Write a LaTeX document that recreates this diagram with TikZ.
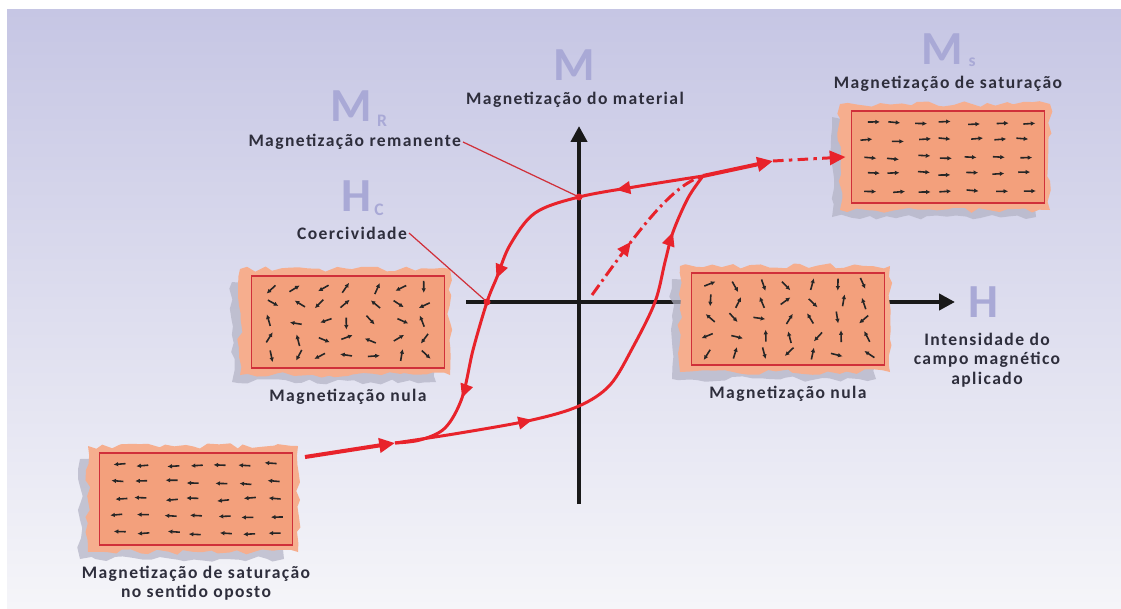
\documentclass[tikz,border=0pt]{standalone}
\usepackage{fontspec}
\setmainfont{Carlito}
\usetikzlibrary{positioning,arrows.meta,calc,decorations.markings,decorations.pathmorphing}
\definecolor{fundo}{HTML}{C6C6E4}
\definecolor{fundomeio}{HTML}{DCDCEE}
\definecolor{fundoclaro}{HTML}{F5F5F9}
\definecolor{lilas}{HTML}{A9A9D6}
\definecolor{texto}{HTML}{2E2E3C}
\definecolor{curva}{HTML}{E8232B}
\definecolor{placa}{HTML}{F3A07C}
\definecolor{rasgado}{HTML}{F6AE8E}
\definecolor{borda}{HTML}{D0303A}
\definecolor{sombra}{HTML}{B2B2C4}
\tikzset{
  rotulo/.style={font=\bfseries\fontsize{10}{11}\selectfont\addfontfeatures{LetterSpace=8}, text=texto, align=center, inner sep=1pt},
  letra/.style={font=\bfseries\fontsize{27}{27}\selectfont, text=lilas, inner sep=0pt},
  indice/.style={font=\bfseries\fontsize{10}{10}\selectfont, text=lilas, inner sep=0pt},
  eixo/.style={line width=2.8pt, draw=black!90, -{Triangle[length=9pt,width=9pt]}},
  ramo/.style={draw=curva, line width=1.7pt},
  seta/.style={postaction={decorate, decoration={markings, mark=at position #1 with {\arrow{Triangle[length=8pt,width=7pt]}}}}},
  guia/.style={draw=borda, line width=0.7pt},
  dominio/.style={draw=borda, line width=0.8pt, fill=placa, minimum width=3.86cm, minimum height=1.84cm, inner sep=0pt},
  spin/.style={line width=0.9pt, draw=black!85, -{Latex[length=2.6pt,width=2.6pt]}},
  rasgo/.style={decorate, decoration={random steps, segment length=5pt, amplitude=1.6pt}},
}

\begin{document}
\begin{tikzpicture}[x=0.02cm, y=-0.02cm]
  \pgfmathsetseed{11}
  % fundo
  \fill[white] (0,0) rectangle (1121,608);
  \shade[top color=fundo, middle color=fundomeio, bottom color=fundoclaro] (7,10) rectangle (1121,608);
  \useasboundingbox (0,0) rectangle (1121,608);

  % eixos M e H
  \coordinate (Mbaixo) at (579,504);
  \coordinate (Mtopo) at (579,126);
  \coordinate (Hesq) at (466,302);
  \coordinate (Hdir) at (955,302);
  \draw[eixo] (Mbaixo) -- (Mtopo);
  \draw[eixo] (Hesq) -- (Hdir);

  % placas com os dominios
  \foreach \nome/\cx/\cy/\base/\desvio in {sat/948/157/0/6, nulaesq/348/322/0/180, nuladir/788/319/0/180, oposto/196/499/180/6} {
    \fill[sombra, opacity=0.7, rasgo] (\cx-116,\cy-40) rectangle (\cx+88,\cy+60);
    \fill[rasgado, rasgo] (\cx-108,\cy-53) rectangle (\cx+102,\cy+53);
    \node[dominio] (\nome) at (\cx,\cy) {};
    \foreach \i in {0,...,6}
      \foreach \j in {0,...,4} {
        \pgfmathsetmacro\px{\cx-78+26*\i+4*rand}
        \pgfmathsetmacro\py{\cy-34+17*\j+2*rand}
        \pgfmathsetmacro\ang{\base+\desvio*rand}
        \draw[spin, shift={(\px,\py)}, rotate=\ang] (-6,0) -- (6,0);
      }
  }

  % ciclo de histerese
  \coordinate (topo) at (703,176);
  \coordinate (satpt) at (773,161);
  \coordinate (base) at (395,443);
  \coordinate (inicio) at (305,457);
  \coordinate (rem) at (579,197);
  \coordinate (coer) at (487,302);
  \coordinate (origem) at (592,295);
  \draw[ramo, seta=0.19, seta=0.54, seta=0.81] plot[smooth, tension=0.55] coordinates {(topo) (640,186) (rem) (535,213) (510,245) (497,277) (coer) (473,350) (462,398) (445,428) (420,440) (base)};
  \draw[ramo, seta=0.305, seta=0.86] plot[smooth, tension=0.55] coordinates {(base) (460,433) (532,420) (579,406) (610,385) (633,347) (655,302) (665,262) (673,232) (688,198) (topo)};
  \draw[ramo, line width=2.3pt, -{Triangle[length=9pt,width=8pt]}] (inicio) -- (base);
  \draw[ramo, line width=2.3pt, -{Triangle[length=9pt,width=8pt]}] (topo) -- (satpt);
  \draw[ramo, dash pattern=on 6pt off 3pt on 2pt off 3pt, -{Triangle[length=9pt,width=8pt]}] (satpt) -- ([xshift=-3pt]sat.west);
  \draw[ramo, dash pattern=on 7pt off 2.5pt on 1.5pt off 2.5pt, seta=0.4] (origem) .. controls (640,228) and (672,185) .. (topo);

  % rotulos
  \node[letra] (mm) at (574,65) {M};
  \node[rotulo] (mtxt) at (575,100) {Magnetização do material};
  \node[letra] (mr) at (351,106) {M};
  \node[indice] at (382,121) {R};
  \node[rotulo, anchor=east] (remtxt) at (463,142) {Magnetização remanente};
  \node[letra] (hc) at (356,196) {H};
  \node[indice] at (379,210) {C};
  \node[rotulo, anchor=east] (coertxt) at (409,233) {Coercividade};
  \node[letra] (ms) at (942,49) {M};
  \node[indice] at (972,62) {s};
  \node[rotulo, above=0.34cm of sat] (mstxt) {Magnetização de saturação};
  \node[letra] (hh) at (983,302) {H};
  \node[rotulo] (htxt) at (987,360) {Intensidade do\\campo magnético\\aplicado};
  \node[rotulo, below=0.36cm of nulaesq] {Magnetização nula};
  \node[rotulo, below=0.36cm of nuladir] {Magnetização nula};
  \node[rotulo, below=0.36cm of oposto] {Magnetização de saturação\\no sentido oposto};

  % linhas de chamada
  \draw[guia] (remtxt.east) -- (rem);
  \draw[guia] (coertxt.east) -- (coer);
  \fill[curva] (rem) circle[radius=3.5];
  \fill[curva] (coer) circle[radius=3.5];
\end{tikzpicture}
\end{document}
